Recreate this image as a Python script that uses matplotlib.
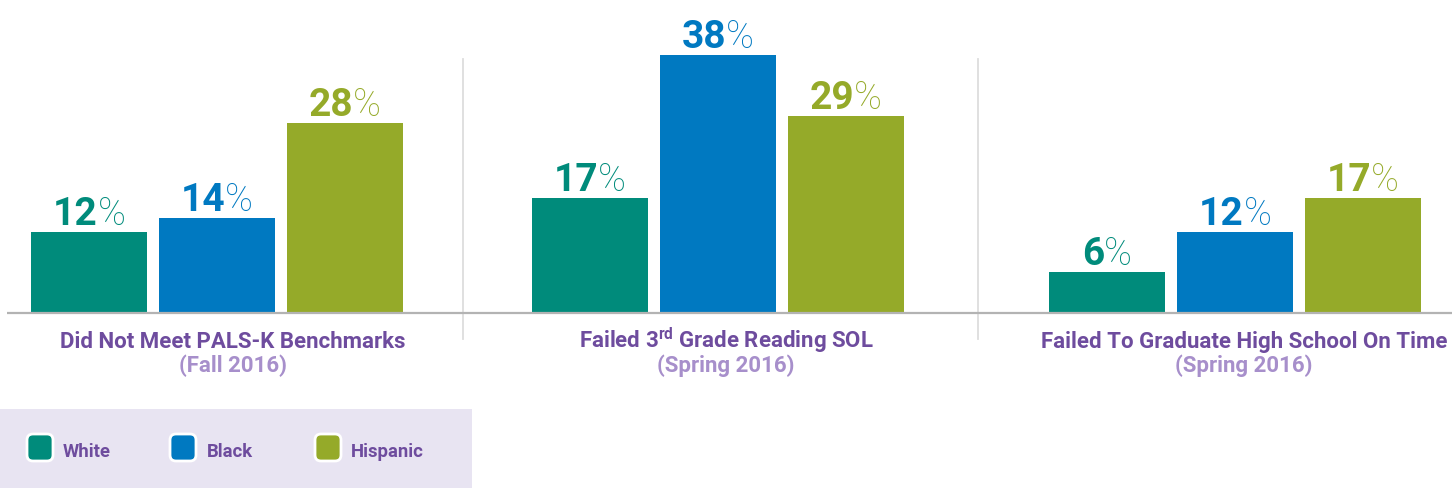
import matplotlib
matplotlib.use("Agg")
import matplotlib.pyplot as plt
from matplotlib.patches import FancyBboxPatch, Rectangle

# ---------------- data ----------------
groups = ["Did Not Meet PALS-K Benchmarks",
          "Failed 3$^{\\mathbf{rd}}$ Grade Reading SOL",
          "Failed To Graduate High School On Time"]
subtitles = ["(Fall 2016)", "(Spring 2016)", "(Spring 2016)"]
series = ["White", "Black", "Hispanic"]
white = [12, 17, 6]
black = [14, 38, 12]
hispanic = [28, 29, 17]
values = [white, black, hispanic]

# ---------------- style / layout ----------------
colors = ["#008B7B", "#0079C1", "#95AA29"]
PURPLE = "#6E4C9E"
LIGHT_PURPLE = "#A78FCB"
FONT = ["Roboto", "DejaVu Sans"]
plt.rcParams['font.family'] = FONT
plt.rcParams['mathtext.fontset'] = 'custom'
plt.rcParams['mathtext.rm'] = 'Roboto'
plt.rcParams['mathtext.bf'] = 'Roboto:bold'

W, H = 1452, 489
BASE = 314          # baseline pixel row (from top)
PPP = 6.78          # pixels per percentage point
group_centers = [217, 718, 1235]
title_x = [233, 726, 1244]
bar_w = 116
pitch = 128


def yv(p):
    """pixel row from top -> data y"""
    return (BASE - p) / PPP


fig = plt.figure(figsize=(W / 100, H / 100), dpi=100)
ax = fig.add_axes([0, 0, 1, 1])
ax.set_xlim(0, W)
ax.set_ylim(yv(H), yv(0))
ax.axis("off")

# bars
for j, (name, vals) in enumerate(zip(series, values)):
    xs = [c + (j - 1) * pitch for c in group_centers]
    ax.bar(xs, vals, width=bar_w, color=colors[j], zorder=2)

# baseline & separators
ax.plot([7, W], [0, 0], color="#B3B3B3", lw=1.6, zorder=3, solid_capstyle="butt")
for sx in [463, 978]:
    ax.plot([sx, sx], [yv(60), yv(340)], color="#DDDDDD", lw=1.3, zorder=1)

# value labels (bold digits + lighter percent sign)
fig.canvas.draw()
renderer = fig.canvas.get_renderer()
for j, vals in enumerate(values):
    for i, v in enumerate(vals):
        cx = group_centers[i] + (j - 1) * pitch
        y = v + 8 / PPP
        t1 = ax.text(cx, y, f"{v}", color=colors[j], fontsize=28,
                     fontweight="bold", ha="left", va="baseline", zorder=4)
        t2 = ax.text(cx, y, "%", color=colors[j], fontsize=27,
                     fontweight="light", ha="left", va="baseline", zorder=4)
        w1 = t1.get_window_extent(renderer).width
        w2 = t2.get_window_extent(renderer).width
        gap = 0
        total = w1 + gap + w2
        x0 = cx - total / 2
        t1.set_x(x0)
        t2.set_x(x0 + w1 + gap)

# category titles
for i in range(3):
    ax.text(title_x[i], yv(348), groups[i], color=PURPLE, fontsize=16,
            fontweight="bold", ha="center", va="baseline")
    ax.text(title_x[i], yv(372), subtitles[i], color=LIGHT_PURPLE, fontsize=16,
            fontweight="bold", ha="center", va="baseline")

# legend
ax.add_patch(Rectangle((0, yv(H)), 472, yv(410) - yv(H), facecolor="#E8E4F2",
                       edgecolor="none", zorder=0))
sw_x = [27, 170, 315]
lab_x = [63, 207, 351]
for j, name in enumerate(series):
    ax.add_patch(FancyBboxPatch((sw_x[j], yv(462)), 26, yv(435) - yv(462),
                                boxstyle="round,pad=0,rounding_size=6",
                                mutation_aspect=1 / PPP,
                                facecolor=colors[j], edgecolor="white",
                                linewidth=2, zorder=2))
    ax.text(lab_x[j], yv(457), name, color=PURPLE, fontsize=13.3,
            fontweight="bold", ha="left", va="baseline")

fig.savefig("out.png", dpi=100)
